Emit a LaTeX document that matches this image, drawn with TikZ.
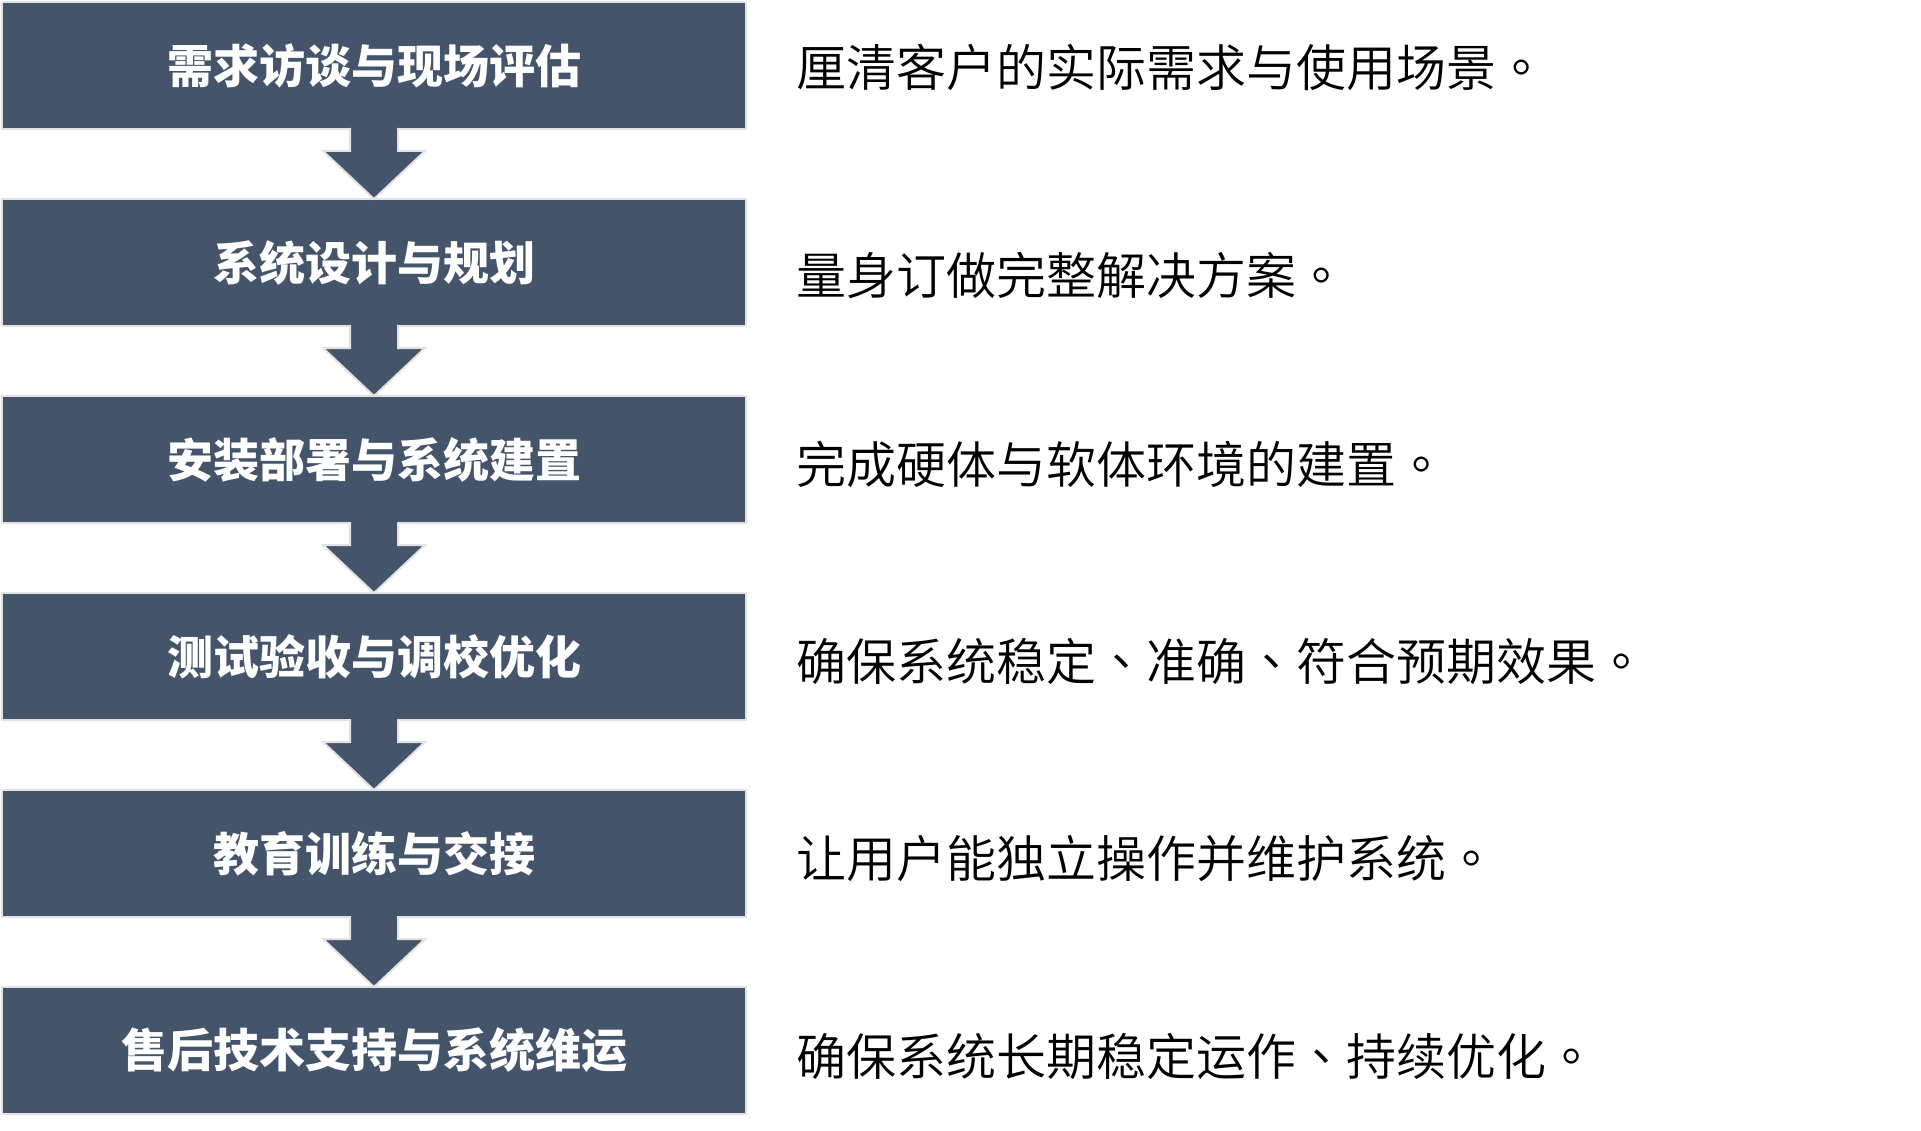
\documentclass[tikz,border=0pt]{standalone}
\usepackage{fontspec}
\usepackage{tikz}
\usetikzlibrary{calc,positioning}
\newfontfamily\cjk{Noto Sans CJK SC}
\newfontfamily\cjkthin{Noto Sans CJK SC}[UprightFont={* DemiLight}]
\newfontfamily\cjkmark{Noto Sans CJK TC}[UprightFont={* DemiLight}]
\newcommand{\fullstop}{{\cjkmark 。}}
\newcommand{\listcomma}{{\cjkmark 、}}
\definecolor{slate}{HTML}{44546A}
\definecolor{rim}{HTML}{E2E2E2}
\newdimen\hdim
\newdimen\wdim
\newdimen\odim
\hdim=127pt
\wdim=744pt
\odim=70pt
\tikzstyle{phase}=[
  draw=rim,
  fill=slate,
  line width=2pt,
  font={\fontsize{46pt}{46pt}\selectfont\cjk\bfseries},
  text=white,
  inner sep=0pt,
  minimum height=\hdim,
  minimum width=\wdim,
  outer sep=0pt,
  rectangle,
  text centered,
]
\tikzstyle{note}=[
  font={\fontsize{50pt}{50pt}\selectfont\cjkthin},
  text=black,
  inner sep=0pt,
  anchor=west,
]
\tikzstyle{flow}=[
  fill=slate,
  draw=rim,
  line width=2pt,
  line join=miter,
]
\tikzset{
  node distance=\odim,
  x=1pt,
  y=1pt,
}

\begin{document}
\begin{tikzpicture}
      \useasboundingbox (0,0) rectangle (1921,-1131);
      \node (p1) [phase] at (374,-65.5) {需求访谈与现场评估};
      \node (p2) [phase, below=of p1] {系统设计与规划};
      \node (p3) [phase, below=of p2] {安装部署与系统建置};
      \node (p4) [phase, below=of p3] {测试验收与调校优化};
      \node (p5) [phase, below=of p4] {教育训练与交接};
      \node (p6) [phase, below=of p5] {售后技术支持与系统维运};
      %%
      \node (n1) [note] at ($(p1.east)+(50,-1.5)$) {厘清客户的实际需求与使用场景\fullstop};
      \node (n2) [note] at ($(p2.east)+(50,-13)$) {量身订做完整解决方案\fullstop};
      \node (n3) [note] at ($(p3.east)+(50,-5)$) {完成硬体与软体环境的建置\fullstop};
      \node (n4) [note] at ($(p4.east)+(50,-5)$) {确保系统稳定\listcomma 准确\listcomma 符合预期效果\fullstop};
      \node (n5) [note] at ($(p5.east)+(50,-5)$) {让用户能独立操作并维护系统\fullstop};
      \node (n6) [note] at ($(p6.east)+(50,-6)$) {确保系统长期稳定运作\listcomma 持续优化\fullstop};
      %%
      \draw [flow] ($(p1.south)+(24,1)$) -- ++(0,-23) -- ++(27,0) -- (p2.north) -- ++(-51,48) -- ++(27,0) -- ++(0,23);
      \draw [flow] ($(p2.south)+(24,1)$) -- ++(0,-23) -- ++(27,0) -- (p3.north) -- ++(-51,48) -- ++(27,0) -- ++(0,23);
      \draw [flow] ($(p3.south)+(24,1)$) -- ++(0,-23) -- ++(27,0) -- (p4.north) -- ++(-51,48) -- ++(27,0) -- ++(0,23);
      \draw [flow] ($(p4.south)+(24,1)$) -- ++(0,-23) -- ++(27,0) -- (p5.north) -- ++(-51,48) -- ++(27,0) -- ++(0,23);
      \draw [flow] ($(p5.south)+(24,1)$) -- ++(0,-23) -- ++(27,0) -- (p6.north) -- ++(-51,48) -- ++(27,0) -- ++(0,23);
    \end{tikzpicture}
\end{document}
